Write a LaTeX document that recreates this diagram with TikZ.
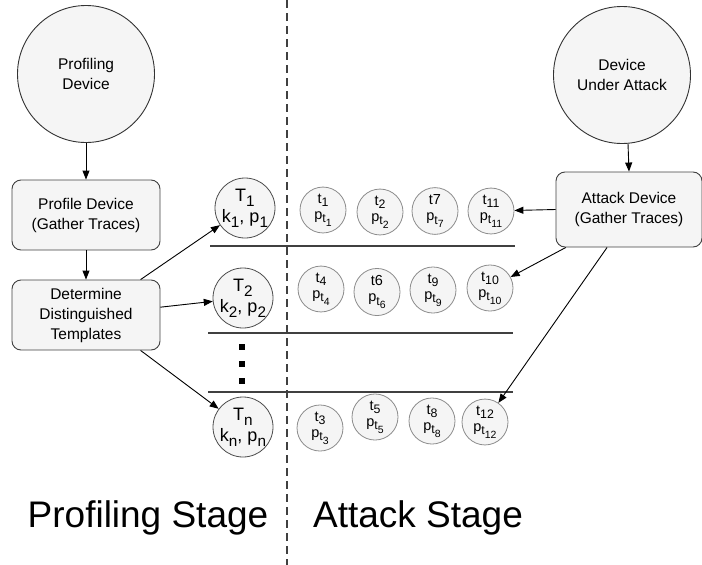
\documentclass[tikz,border=0pt]{standalone}
\usepackage{fontspec}
\usepackage{graphicx}
\setmainfont{Liberation Sans}
\usetikzlibrary{arrows.meta,shapes.geometric}
\newcommand\lowr[1]{\raisebox{-0.5ex}{\scalebox{0.85}{#1}}}
\definecolor{nodefill}{HTML}{F5F5F5}
\begin{document}
\begin{tikzpicture}[x=1pt,y=-1pt,
  bigc/.style={circle, draw=black!80, fill=nodefill, minimum size=137pt, inner sep=0pt, align=center, font=\fontsize{15.5}{20}\selectfont, line width=0.9pt},
  procbox/.style={rectangle, rounded corners=9pt, draw=black!75, fill=nodefill, minimum width=148pt, minimum height=70pt, align=center, font=\fontsize{15.5}{20}\selectfont, line width=0.9pt},
  tmpl/.style={circle, draw=black!70, fill=nodefill, minimum size=60pt, inner sep=0pt, align=center, font=\fontsize{18}{21}\selectfont, line width=0.8pt},
  trc/.style={ellipse, draw=black!45, fill=nodefill, minimum width=46pt, minimum height=44pt, inner sep=0pt, align=center, font=\fontsize{14.5}{16}\selectfont, line width=0.8pt},
  conn/.style={draw=black, line width=0.9pt, -{Triangle[length=9pt,width=7pt]}},
  sepline/.style={draw=black!75, line width=1.2pt},
  dotsq/.style={rectangle, fill=black, minimum size=6pt, inner sep=0pt},
  stage/.style={font=\fontsize{37}{40}\selectfont, anchor=base}
]
\useasboundingbox (0,0) rectangle (702,565);

% divider
\draw[draw=black!75, line width=1.1pt, dash pattern=on 8pt off 5pt] (287,0) -- (287,565);

% left side
\node[bigc] (pd) at (86,74) {Profiling\\Device};
\node[procbox] (pbox) at (86,215) {Profile Device\\(Gather Traces)};
\node[procbox] (det) at (86,315) {Determine\\Distinguished\\Templates};

% right side
\node[bigc] (dua) at (622,75) {Device\\Under Attack};
\node[procbox, minimum width=146pt, minimum height=75pt] (att) at (629,209.5) {Attack Device\\(Gather Traces)};

% separators
\draw[sepline] (210,246) -- (515,246);
\draw[sepline] (208,333) -- (513,333);
\draw[sepline] (208,392) -- (513,392);

% dots
\node[dotsq] (d1) at (242,347) {};
\node[dotsq] (d2) at (242,364) {};
\node[dotsq] (d3) at (242,381) {};

% templates
\node[tmpl] (T1) at (245,208) {T\lowr{1}\\k\lowr{1}, p\lowr{1}};
\node[tmpl] (T2) at (243,298) {T\lowr{2}\\k\lowr{2}, p\lowr{2}};
\node[tmpl] (Tn) at (243,427) {T\lowr{n}\\k\lowr{n}, p\lowr{n}};

% traces row 1
\node[trc] (t1) at (323,210) {t\lowr{1}\\p\lowr{t\lowr{1}}};
\node[trc] (t2) at (380,212) {t\lowr{2}\\p\lowr{t\lowr{2}}};
\node[trc] (t7) at (435,211) {t7\\p\lowr{t\lowr{7}}};
\node[trc] (t11) at (491,211) {t\lowr{11}\\p\lowr{t\lowr{11}}};
% row 2
\node[trc] (t4) at (321,289) {t\lowr{4}\\p\lowr{t\lowr{4}}};
\node[trc] (t6) at (377,292) {t6\\p\lowr{t\lowr{6}}};
\node[trc] (t9) at (433,290) {t\lowr{9}\\p\lowr{t\lowr{9}}};
\node[trc] (t10) at (490,288) {t\lowr{10}\\p\lowr{t\lowr{10}}};
% row 3
\node[trc] (t3) at (320,428) {t\lowr{3}\\p\lowr{t\lowr{3}}};
\node[trc] (t5) at (375,417) {t\lowr{5}\\p\lowr{t\lowr{5}}};
\node[trc] (t8) at (432,421) {t\lowr{8}\\p\lowr{t\lowr{8}}};
\node[trc] (t12) at (485,422) {t\lowr{12}\\p\lowr{t\lowr{12}}};

% connectors
\draw[conn] (pd) -- (pbox);
\draw[conn] (pbox) -- (det);
\draw[conn] (det.33) -- (T1);
\draw[conn] (det.6) -- (T2);
\draw[conn] (det.-33) -- (Tn);
\draw[conn] (dua.-85) -- (att.north);
\draw[conn] (att.west) -- (t11);
\draw[conn] (att.211) -- (t10);
\draw[conn] (att.240) -- (t12);

% stage labels
\node[stage] (ps) at (148,527) {Profiling Stage};
\node[stage] (as) at (418,527) {Attack Stage};
\end{tikzpicture}
\end{document}
